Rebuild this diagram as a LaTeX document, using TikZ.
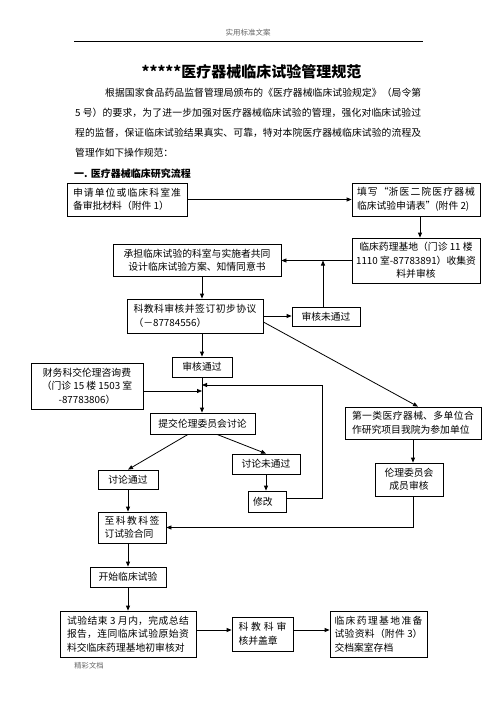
\documentclass[tikz,border=0pt]{standalone}
\usepackage{fontspec}
\setmainfont{Noto Sans CJK SC}
\usetikzlibrary{arrows.meta}
\XeTeXlinebreaklocale "zh"
\XeTeXlinebreakskip=0pt plus 2pt
\newcommand\bxfont{\fontsize{9.8pt}{13.5pt}\selectfont}
\newcommand\parfont{\fontsize{9.8pt}{20pt}\selectfont}
\begin{document}
\begin{tikzpicture}[x=1pt,y=-1pt,
  box/.style={draw, line width=0.8pt, inner sep=0pt, font=\bxfont, align=center},
  jbox/.style={box, align=justify},
  arr/.style={draw, line width=0.8pt, -{Triangle[length=5pt,width=4pt]}},
  ln/.style={draw, line width=0.8pt}]
\fill[white] (0,0) rectangle (496,702);
\useasboundingbox (0,0) rectangle (496,702);
% header
\node[font=\fontsize{7.5pt}{9pt}\selectfont, text=black!60, inner sep=0pt] (hdr) at (248,33) {实用标准文案};
\draw[line width=0.8pt] (74,41) -- (423,41);
% title
\node[font=\fontsize{15pt}{18pt}\selectfont\bfseries, inner sep=0pt] (title) at (251.5,72) {*****医疗器械临床试验管理规范};
% paragraph
\node[anchor=north west, inner sep=0pt, text width=346pt, align=justify, font=\parfont] (para) at (75,88)
 {\hspace*{30pt}根据国家食品药品监督管理局颁布的《医疗器械临床试验规定》（局令第\linebreak
 5 号）的要求，为了进一步加强对医疗器械临床试验的管理，强化对临床试验过\linebreak
 程的监督，保证临床试验结果真实、可靠，特对本院医疗器械临床试验的流程及\linebreak
 管理作如下操作规范：};
\node[anchor=west, inner sep=0pt, font=\fontsize{10pt}{12pt}\selectfont\bfseries] (sec) at (74,174) {一. 医疗器械临床研究流程};
% boxes
\node[jbox, minimum width=120, minimum height=33, text width=108pt] (A) at (127,199.5) {申请单位或临床科室准\linebreak 备审批材料（附件 1）};
\node[jbox, minimum width=128, minimum height=33, text width=118pt] (B) at (416,199.5) {填写“浙医二院医疗器械\linebreak 临床试验申请表”(附件 2)};
\node[box, minimum width=128, minimum height=45] (C) at (416,260.5) {临床药理基地（门诊 11 楼\\1110 室-87783891）收集资\\料并审核};
\node[box, minimum width=168, minimum height=32] (D) at (197,260) {承担临床试验的科室与实施者共同\\设计临床试验方案、知情同意书};
\node[jbox, minimum width=136, minimum height=34, text width=123pt] (E) at (195,316) {科教科审核并签订初步协议\linebreak （－87784556）};
\node[box, minimum width=68, minimum height=19] (F) at (326,316.5) {审核未通过};
\node[box, minimum width=60, minimum height=20] (G) at (202,367) {审核通过};
\node[box, minimum width=112, minimum height=46] (H) at (87,386) {财务科交伦理咨询费\\（门诊 15 楼 1503 室\\-87783806）};
\node[jbox, minimum width=136, minimum height=32, text width=122pt] (I) at (413,423) {第一类医疗器械、多单位合\linebreak 作研究项目我院为参加单位};
\node[box, minimum width=105, minimum height=21] (J) at (202.5,423.5) {提交伦理委员会讨论};
\node[box, minimum width=68, minimum height=33] (K) at (409,479.5) {伦理委员会\\成员审核};
\node[box, minimum width=60, minimum height=19] (L) at (128,479.5) {讨论通过};
\node[box, minimum width=68, minimum height=20] (N) at (266,464) {讨论未通过};
\node[box, minimum width=38, minimum height=21, text width=28pt, align=left] (O) at (267,501.5) {修改};
\node[jbox, minimum width=68, minimum height=31, text width=55pt] (M) at (132,527.5) {至科教科签\linebreak 订试验合同};
\node[box, minimum width=76, minimum height=20] (P) at (128,577) {开始临床试验};
\node[jbox, minimum width=136, minimum height=46, text width=122pt] (Q) at (128,634) {试验结束 3 月内，完成总结\linebreak 报告，连同临床试验原始资\linebreak 料交临床药理基地初审核对};
\node[jbox, minimum width=61, minimum height=34, text width=48pt] (R) at (262.5,634) {科教科审\linebreak 核并盖章};
\node[jbox, minimum width=97, minimum height=46, text width=88pt] (S) at (378.5,634) {临床药理基地准备\linebreak 试验资料（附件 3）\linebreak 交档案室存档};
% footer
\node[font=\fontsize{7.3pt}{9pt}\selectfont, text=black!60, inner sep=0pt] (ftr) at (89,666) {精彩文档};
% connectors
\draw[arr] (A.east) -- (A.east -| B.west);
\draw[arr] ([xshift=4pt]B.south) -- ([xshift=4pt]B.south |- C.north);
\draw[arr] (C.west) -- (C.west -| D.east);
\draw[arr] ([xshift=-3pt]F.north) -- ([xshift=-3pt]F.north |- C.west);
\draw[arr] ([xshift=5pt]D.south) -- ([xshift=5pt]D.south |- E.north);
\draw[arr] (E.east) -- (E.east -| F.west);
\draw[arr] (E.south -| G.north) -- (G.north);
\draw[arr] ([yshift=-6pt]E.east) -- ([xshift=5pt]I.north);
\draw[arr] (G.south) -- (G.south |- J.north);
\draw[arr] ([yshift=-5pt]H.east) -- ([yshift=-5pt]H.east -| G.south);
\coordinate (fb) at (322,385);
\draw[arr] ([yshift=3.5pt]O.east) -- ([yshift=3.5pt]O.east -| fb) -- (fb) -- (fb -| G.south);
\draw[arr] ([xshift=-14.5pt]J.south) -- (L.north);
\draw[arr] ([xshift=14.5pt]J.south) -- (N.north);
\draw[arr] (N.south) -- (N.south |- O.north);
\draw[arr] (L.south) -- (L.south |- M.north);
\draw[arr] (I.south) -- (I.south |- K.north);
\draw[arr] ([xshift=4pt]K.south) |- (M.east);
\draw[arr] (P.north |- M.south) -- (P.north);
\draw[arr] (P.south) -- (Q.north);
\draw[arr] ([yshift=4pt]Q.east) -- ([yshift=4pt]Q.east -| R.west);
\draw[arr] ([yshift=4pt]R.east) -- ([yshift=4pt]R.east -| S.west);
\end{tikzpicture}
\end{document}
